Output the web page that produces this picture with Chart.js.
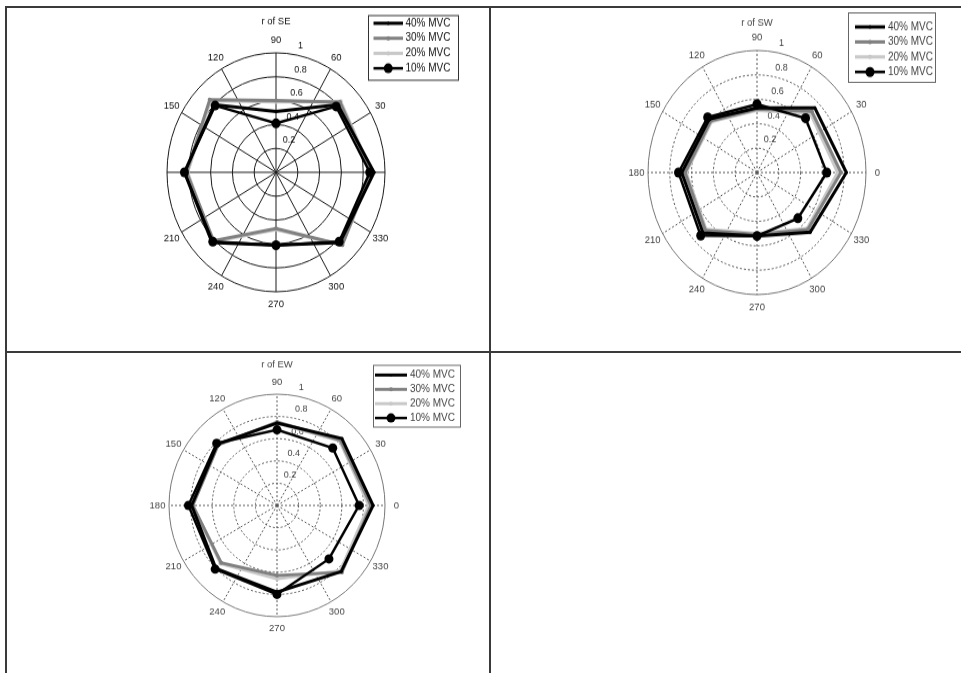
<!DOCTYPE html>
<html lang="en">
<head>
    <meta charset="UTF-8">
    <title>r of SE / SW / EW</title>
    <script src="https://cdn.jsdelivr.net/npm/chart.js@4.4.1/dist/chart.umd.min.js"></script>
    <style>
        body {
            margin: 0;
            background: #fff;
            font-family: Arial, "Liberation Sans", sans-serif;
        }
        .rule {
            position: absolute;
            background: #3a3a3a;
        }
        .panel {
            position: absolute;
            transform-origin: 0 0;
        }
        .soft {
            filter: blur(0.5px);
        }
    </style>
</head>
<body>
    <div class="rule" style="left:5px; top:6px; width:956px; height:2px;"></div>
    <div class="rule" style="left:5px; top:6px; width:2px; height:667px;"></div>
    <div class="rule" style="left:489px; top:6px; width:2px; height:667px;"></div>
    <div class="rule" style="left:5px; top:351px; width:956px; height:2px;"></div>

    <div class="panel" style="left:8px; top:9px; width:480px; height:300px; transform:scaleY(1.096);">
        <canvas id="chartSE"></canvas>
    </div>
    <div class="panel soft" style="left:492px; top:9px; width:469px; height:300px; transform:scaleY(1.12);">
        <canvas id="chartSW"></canvas>
    </div>
    <div class="panel soft" style="left:8px; top:354px; width:480px; height:300px; transform:scaleY(1.03);">
        <canvas id="chartEW"></canvas>
    </div>

    <script>
        // sample directions (deg, counter-clockwise from east) and the polar grid
        const sampleAngles = [0, 45, 90, 135, 180, 225, 270, 315];
        const gridAngles = [90, 60, 30, 0, 330, 300, 270, 240, 210, 180, 150, 120];
        const radialTicks = [0.2, 0.4, 0.6, 0.8, 1];
        const seriesNames = ['40% MVC', '30% MVC', '20% MVC', '10% MVC'];

        // r of SE
        const se40 = [0.90, 0.80, 0.51, 0.80, 0.84, 0.83, 0.61, 0.83];
        const se30 = [0.87, 0.83, 0.60, 0.86, 0.82, 0.81, 0.47, 0.86];
        const se20 = [0.88, 0.84, 0.59, 0.85, 0.81, 0.82, 0.48, 0.86];
        const se10 = [0.86, 0.78, 0.41, 0.79, 0.84, 0.82, 0.61, 0.82];

        // r of SW
        const sw40 = [0.82, 0.75, 0.53, 0.62, 0.69, 0.70, 0.52, 0.69];
        const sw30 = [0.77, 0.71, 0.52, 0.60, 0.66, 0.67, 0.51, 0.66];
        const sw20 = [0.74, 0.69, 0.51, 0.59, 0.65, 0.66, 0.50, 0.65];
        const sw10 = [0.64, 0.63, 0.56, 0.64, 0.72, 0.73, 0.52, 0.53];

        // r of EW
        const ew40 = [0.89, 0.85, 0.74, 0.78, 0.79, 0.80, 0.78, 0.84];
        const ew30 = [0.87, 0.83, 0.75, 0.77, 0.78, 0.73, 0.63, 0.85];
        const ew20 = [0.85, 0.82, 0.74, 0.77, 0.78, 0.74, 0.66, 0.83];
        const ew10 = [0.76, 0.73, 0.68, 0.79, 0.82, 0.81, 0.80, 0.68];

        const seriesStyles = [
            { color: '#000000', width: 3, radius: 1.5, order: 1 },
            { color: '#808080', width: 3, radius: 2, order: 2 },
            { color: '#c8c8c8', width: 3, radius: 2, order: 3 },
            { color: '#000000', width: 2.5, radius: 4.5, order: 0 }
        ];

        // radar spokes every 15 deg, clockwise from the top (90)
        const slots = Array.from({length: 24}, (_, i) => (90 - 15 * i + 360) % 360);
        const toSlots = values => slots.map(a => {
            const k = sampleAngles.indexOf(a);
            return k >= 0 ? values[k] : null;
        });

        const polarText = {
            id: 'polarText',
            beforeDatasetsDraw(chart, args, o) {
                const s = chart.scales.r;
                const ctx = chart.ctx;
                const a = 80 * Math.PI / 180;
                ctx.save();
                ctx.fillStyle = o.color;
                ctx.font = o.tickFont;
                ctx.textAlign = 'left';
                ctx.textBaseline = 'bottom';
                radialTicks.forEach(v => {
                    const d = s.getDistanceFromCenterForValue(v);
                    ctx.fillText(v === 1 ? '1' : v.toFixed(1),
                        s.xCenter + d * Math.cos(a) + 3, s.yCenter - d * Math.sin(a) - 3.5);
                });
                ctx.restore();
            },
            afterDraw(chart, args, o) {
                const s = chart.scales.r;
                const ctx = chart.ctx;
                ctx.save();
                ctx.fillStyle = o.color;
                ctx.textAlign = 'center';
                ctx.textBaseline = 'middle';

                ctx.font = o.font;
                ctx.fillText(o.title, s.xCenter, o.titleY);

                chart.data.labels.forEach((lab, i) => {
                    const a = Number(lab);
                    if (!gridAngles.includes(a) || o.skipAngles.includes(a)) return;
                    const p = s.getPointPosition(i, s.drawingArea + o.labelGap);
                    ctx.fillText(lab, p.x, p.y);
                });

                // legend box
                const L = o.legend;
                ctx.strokeStyle = o.boxColor;
                ctx.lineWidth = 1;
                ctx.strokeRect(L.x + 0.5, L.y + 0.5, L.w, L.h);
                ctx.font = o.legendFont;
                ctx.textAlign = 'left';
                chart.data.datasets.forEach((ds, i) => {
                    const y = L.row0 + i * L.step;
                    ctx.strokeStyle = ds.borderColor;
                    ctx.lineWidth = ds.borderWidth;
                    ctx.beginPath();
                    ctx.moveTo(L.x1, y);
                    ctx.lineTo(L.x2, y);
                    ctx.stroke();
                    ctx.fillStyle = ds.borderColor;
                    ctx.beginPath();
                    ctx.arc((L.x1 + L.x2) / 2, y, ds.pointRadius, 0, Math.PI * 2);
                    ctx.fill();
                    ctx.fillStyle = o.color;
                    ctx.fillText(ds.label, L.tx, y);
                });
                ctx.restore();
            }
        };

        function makePolar(id, series, cfg) {
            const datasets = series.map((values, i) => ({
                label: seriesNames[i],
                data: toSlots(values),
                borderColor: seriesStyles[i].color,
                backgroundColor: seriesStyles[i].color,
                borderWidth: seriesStyles[i].width,
                pointRadius: seriesStyles[i].radius,
                pointBorderWidth: 0,
                pointBackgroundColor: seriesStyles[i].color,
                order: seriesStyles[i].order,
                fill: false,
                tension: 0,
                spanGaps: true
            }));

            return new Chart(document.getElementById(id), {
                type: 'radar',
                data: { labels: slots.map(String), datasets: datasets },
                plugins: [polarText],
                options: {
                    responsive: true,
                    maintainAspectRatio: false,
                    animation: false,
                    events: [],
                    layout: { padding: cfg.padding },
                    scales: {
                        r: {
                            min: 0,
                            max: 1,
                            ticks: { display: false, stepSize: 0.2 },
                            pointLabels: { display: false },
                            grid: { circular: true, color: ctx => ctx.tick && ctx.tick.value > 0.99 ? cfg.rimColor : cfg.gridColor, lineWidth: 1 },
                            border: { dash: ctx => ctx.tick && ctx.tick.value > 0.99 ? [] : cfg.dash },
                            angleLines: {
                                color: ctx => ctx.index % 2 === 0 ? cfg.gridColor : 'rgba(0,0,0,0)',
                                lineWidth: 1,
                                borderDash: cfg.dash
                            }
                        }
                    },
                    plugins: {
                        legend: { display: false },
                        tooltip: { enabled: false },
                        polarText: {
                            title: cfg.title,
                            titleY: cfg.titleY,
                            labelGap: 11.5,
                            skipAngles: cfg.skipAngles,
                            color: cfg.textColor,
                            boxColor: cfg.boxColor,
                            font: '9.5px Arial, "Liberation Sans", sans-serif',
                            tickFont: '9px Arial, "Liberation Sans", sans-serif',
                            legendFont: '10px Arial, "Liberation Sans", sans-serif',
                            legend: cfg.legend
                        }
                    }
                }
            });
        }

        makePolar('chartSE', [se40, se30, se20, se10], {
            title: 'r of SE',
            titleY: 11,
            padding: { left: 159, top: 39, right: 102, bottom: 41 },
            skipAngles: [0, 180],
            gridColor: '#1a1a1a',
            rimColor: '#1a1a1a',
            dash: [],
            textColor: '#111',
            boxColor: '#333',
            legend: { x: 360, y: 5.5, w: 90, h: 59, row0: 13, step: 13.7, x1: 365.5, x2: 395, tx: 397.5 }
        });

        makePolar('chartSW', [sw40, sw30, sw20, sw10], {
            title: 'r of SW',
            titleY: 12.5,
            padding: { left: 156, top: 37, right: 95, bottom: 45 },
            skipAngles: [],
            gridColor: '#555',
            rimColor: '#777',
            dash: [2, 2],
            textColor: '#444',
            boxColor: '#666',
            legend: { x: 356, y: 3, w: 87, h: 62, row0: 16, step: 13.4, x1: 363, x2: 393, tx: 396 }
        });

        makePolar('chartEW', [ew40, ew30, ew20, ew10], {
            title: 'r of EW',
            titleY: 10.7,
            padding: { left: 161, top: 39, right: 103, bottom: 45 },
            skipAngles: [],
            gridColor: '#555',
            rimColor: '#777',
            dash: [2, 2],
            textColor: '#444',
            boxColor: '#666',
            legend: { x: 365, y: 10.5, w: 87, h: 60, row0: 20.4, step: 13.9, x1: 367, x2: 399, tx: 402 }
        });
    </script>
</body>
</html>
